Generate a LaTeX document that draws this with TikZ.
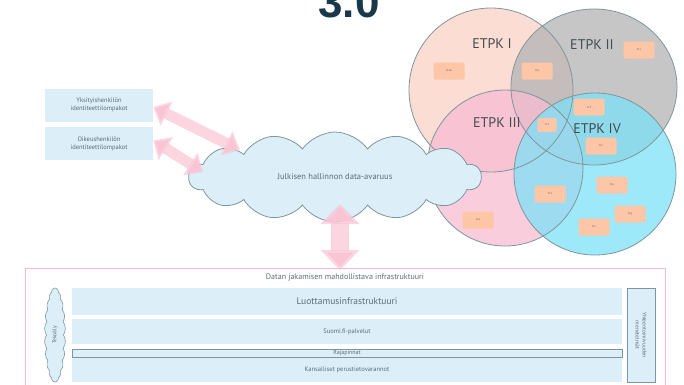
\documentclass[tikz,border=0pt]{standalone}
\usepackage{fontspec}
\setmainfont{PT Sans}
\newfontfamily\titlefont{Liberation Sans}
\usepackage{tikz}
\usetikzlibrary{shapes.symbols}
\usetikzlibrary{arrows.meta}
\usetikzlibrary{positioning}
\usetikzlibrary{math}
\definecolor{peach}{HTML}{FBD9CE}
\definecolor{venngray}{HTML}{B3B3B3}
\definecolor{vennpink}{HTML}{F8BCD2}
\definecolor{venncyan}{HTML}{7DE1F7}
\definecolor{edgegray}{HTML}{7E969E}
\definecolor{ttorange}{HTML}{FDC6A6}
\definecolor{lightblue}{HTML}{DCEFF8}
\definecolor{arrowpink}{HTML}{F9C4D4}
\definecolor{framepink}{HTML}{F7BACD}
\definecolor{textgray}{HTML}{5C6C74}
\definecolor{titleblue}{HTML}{17394A}
\tikzstyle{venn} = [draw=edgegray, line width=0.8pt]
\tikzstyle{etpk} = [font=\fontsize{14}{14}\selectfont, text=textgray!70!black]
\tikzstyle{ttbox} = [fill=ttorange, rounded corners=1.5pt, minimum width=31pt, minimum height=17pt, inner sep=0pt, font=\fontsize{3}{3}\selectfont, text=textgray]
\tikzstyle{wallet} = [fill=lightblue, minimum width=108pt, minimum height=33pt, inner sep=0pt, align=center, font=\fontsize{6.5}{8}\selectfont, text=textgray]
\tikzstyle{layer} = [fill=lightblue, minimum width=550pt, inner sep=0pt, text=textgray]
\tikzstyle{pinkarrow} = [draw=arrowpink, draw opacity=0.7]

\begin{document}
\begin{tikzpicture}[x=1pt, y=-1pt, node distance=5pt]

  \tikzmath{\w = 684; \h = 384;}
  \useasboundingbox (0,0) rectangle (\w,\h);
  \clip (0,0) rectangle (\w,\h);

  % title, cut at the top edge
  \node[anchor=base, text=titleblue, font=\titlefont\bfseries\fontsize{44}{44}\selectfont, inner sep=0pt] (title) at (349,17) {3.0};

  % Venn of the four ETPK
  \fill[fill=peach, fill opacity=0.9] (491,90) circle (82);
  \fill[fill=venngray, fill opacity=0.75] (594,87) ellipse (83 and 78);
  \fill[fill=vennpink, fill opacity=0.75] (505,168) circle (78);
  \fill[fill=venncyan, fill opacity=0.75] (595,174) circle (81);
  \draw[venn] (491,90) circle (82);
  \draw[venn] (594,87) ellipse (83 and 78);
  \draw[venn] (505,168) circle (78);
  \draw[venn] (595,174) circle (81);

  \node[etpk] (etpkI) at (492,44) {ETPK I};
  \node[etpk] (etpkII) at (592,45) {ETPK II};
  \node[etpk] (etpkIII) at (497,123) {ETPK III};
  \node[etpk] (etpkIV) at (597,129) {ETPK IV};

  \node[ttbox] (tta) at (449,71) {tt ae};
  \node[ttbox] (ttb) at (537,71) {tt a};
  \node[ttbox] (ttc) at (639,50) {tt c};
  \node[ttbox] (ttd) at (589,107) {tt 3};
  \node[ttbox, minimum width=19pt, minimum height=14pt] (tte) at (547,125) {tt x};
  \node[ttbox] (ttf) at (601,146) {tt c};
  \node[ttbox] (ttg) at (550,194) {tt x};
  \node[ttbox] (tth) at (612,185) {tt a};
  \node[ttbox] (tti) at (630,214) {tt g};
  \node[ttbox] (ttj) at (594,227) {tt x};
  \node[ttbox] (ttk) at (478,220) {tt a};

  % data space
  \node[cloud, cloud puffs=14, cloud puff arc=110, cloud ignores aspect, draw=edgegray, line width=0.8pt, fill=lightblue,
        minimum width=292pt, minimum height=90pt, text=textgray, font=\fontsize{8.5}{10}\selectfont] (cloud) at (335,177) {Julkisen hallinnon data-avaruus};

  % wallets
  \node[wallet] (yks) at (99,105) {Yksityishenkilön\\identiteettilompakot};
  \node[wallet, below=5pt of yks] (oik) {Oikeushenkilön\\identiteettilompakot};

  % arrows
  \draw[pinkarrow, line width=11pt, {Triangle[width=26pt,length=15pt]}-{Triangle[width=26pt,length=15pt]}] (yks.east) ++(0,2) -- (240,150);
  \draw[pinkarrow, line width=11pt, {Triangle[width=26pt,length=15pt]}-{Triangle[width=26pt,length=15pt]}] (oik.east) ++(0,-3) -- (203,172);
  \draw[pinkarrow, line width=18pt, {Triangle[width=38pt,length=20pt]}-{Triangle[width=38pt,length=20pt]}] (340,204) -- (340,270);

  % infrastructure
  \draw[framepink, line width=0.8pt] (25,392) -- (25,268) -- (665,268) -- (665,392);
  \node[text=textgray, font=\fontsize{8}{9}\selectfont] (infra) at (345,278) {Datan jakamisen mahdollistava infrastruktuuri};
  \node[layer, minimum height=27pt, font=\fontsize{9.5}{10}\selectfont] (luott) at (347,301.5) {Luottamusinfrastruktuuri};
  \node[layer, minimum height=25pt, font=\fontsize{6.5}{8}\selectfont] (suomi) at (347,331.5) {Suomi.fi-palvelut};
  \node[layer, minimum height=24pt, font=\fontsize{6.5}{8}\selectfont] (kans) at (347,370) {Kansalliset perustietovarannot};
  \node[layer, draw=edgegray, line width=0.7pt, minimum height=8pt] (raja) at (347,353) {};
  \node[text=textgray, font=\fontsize{6}{6}\selectfont, inner sep=0pt] (rajat) at (347,353.5) {Rajapinnat};
  \node[cloud, cloud puffs=22, cloud puff arc=70, cloud ignores aspect, draw=edgegray, line width=0.6pt, fill=lightblue,
        minimum width=21pt, minimum height=94pt, inner sep=0pt] (tekoaly) at (55,335) {};
  \node[rotate=90, text=textgray, font=\fontsize{5.5}{6}\selectfont] (tekt) at (tekoaly) {Tekoäly};
  \node[draw=edgegray, line width=0.7pt, fill=lightblue, minimum width=28pt, minimum height=94pt, inner sep=0pt] (yhteen) at (641,335) {};
  \node[rotate=-90, align=center, text=textgray, font=\fontsize{5.5}{7}\selectfont] (yhteent) at (yhteen) {Yhteentoimivuuden\\menetelmät};

\end{tikzpicture}
\end{document}
